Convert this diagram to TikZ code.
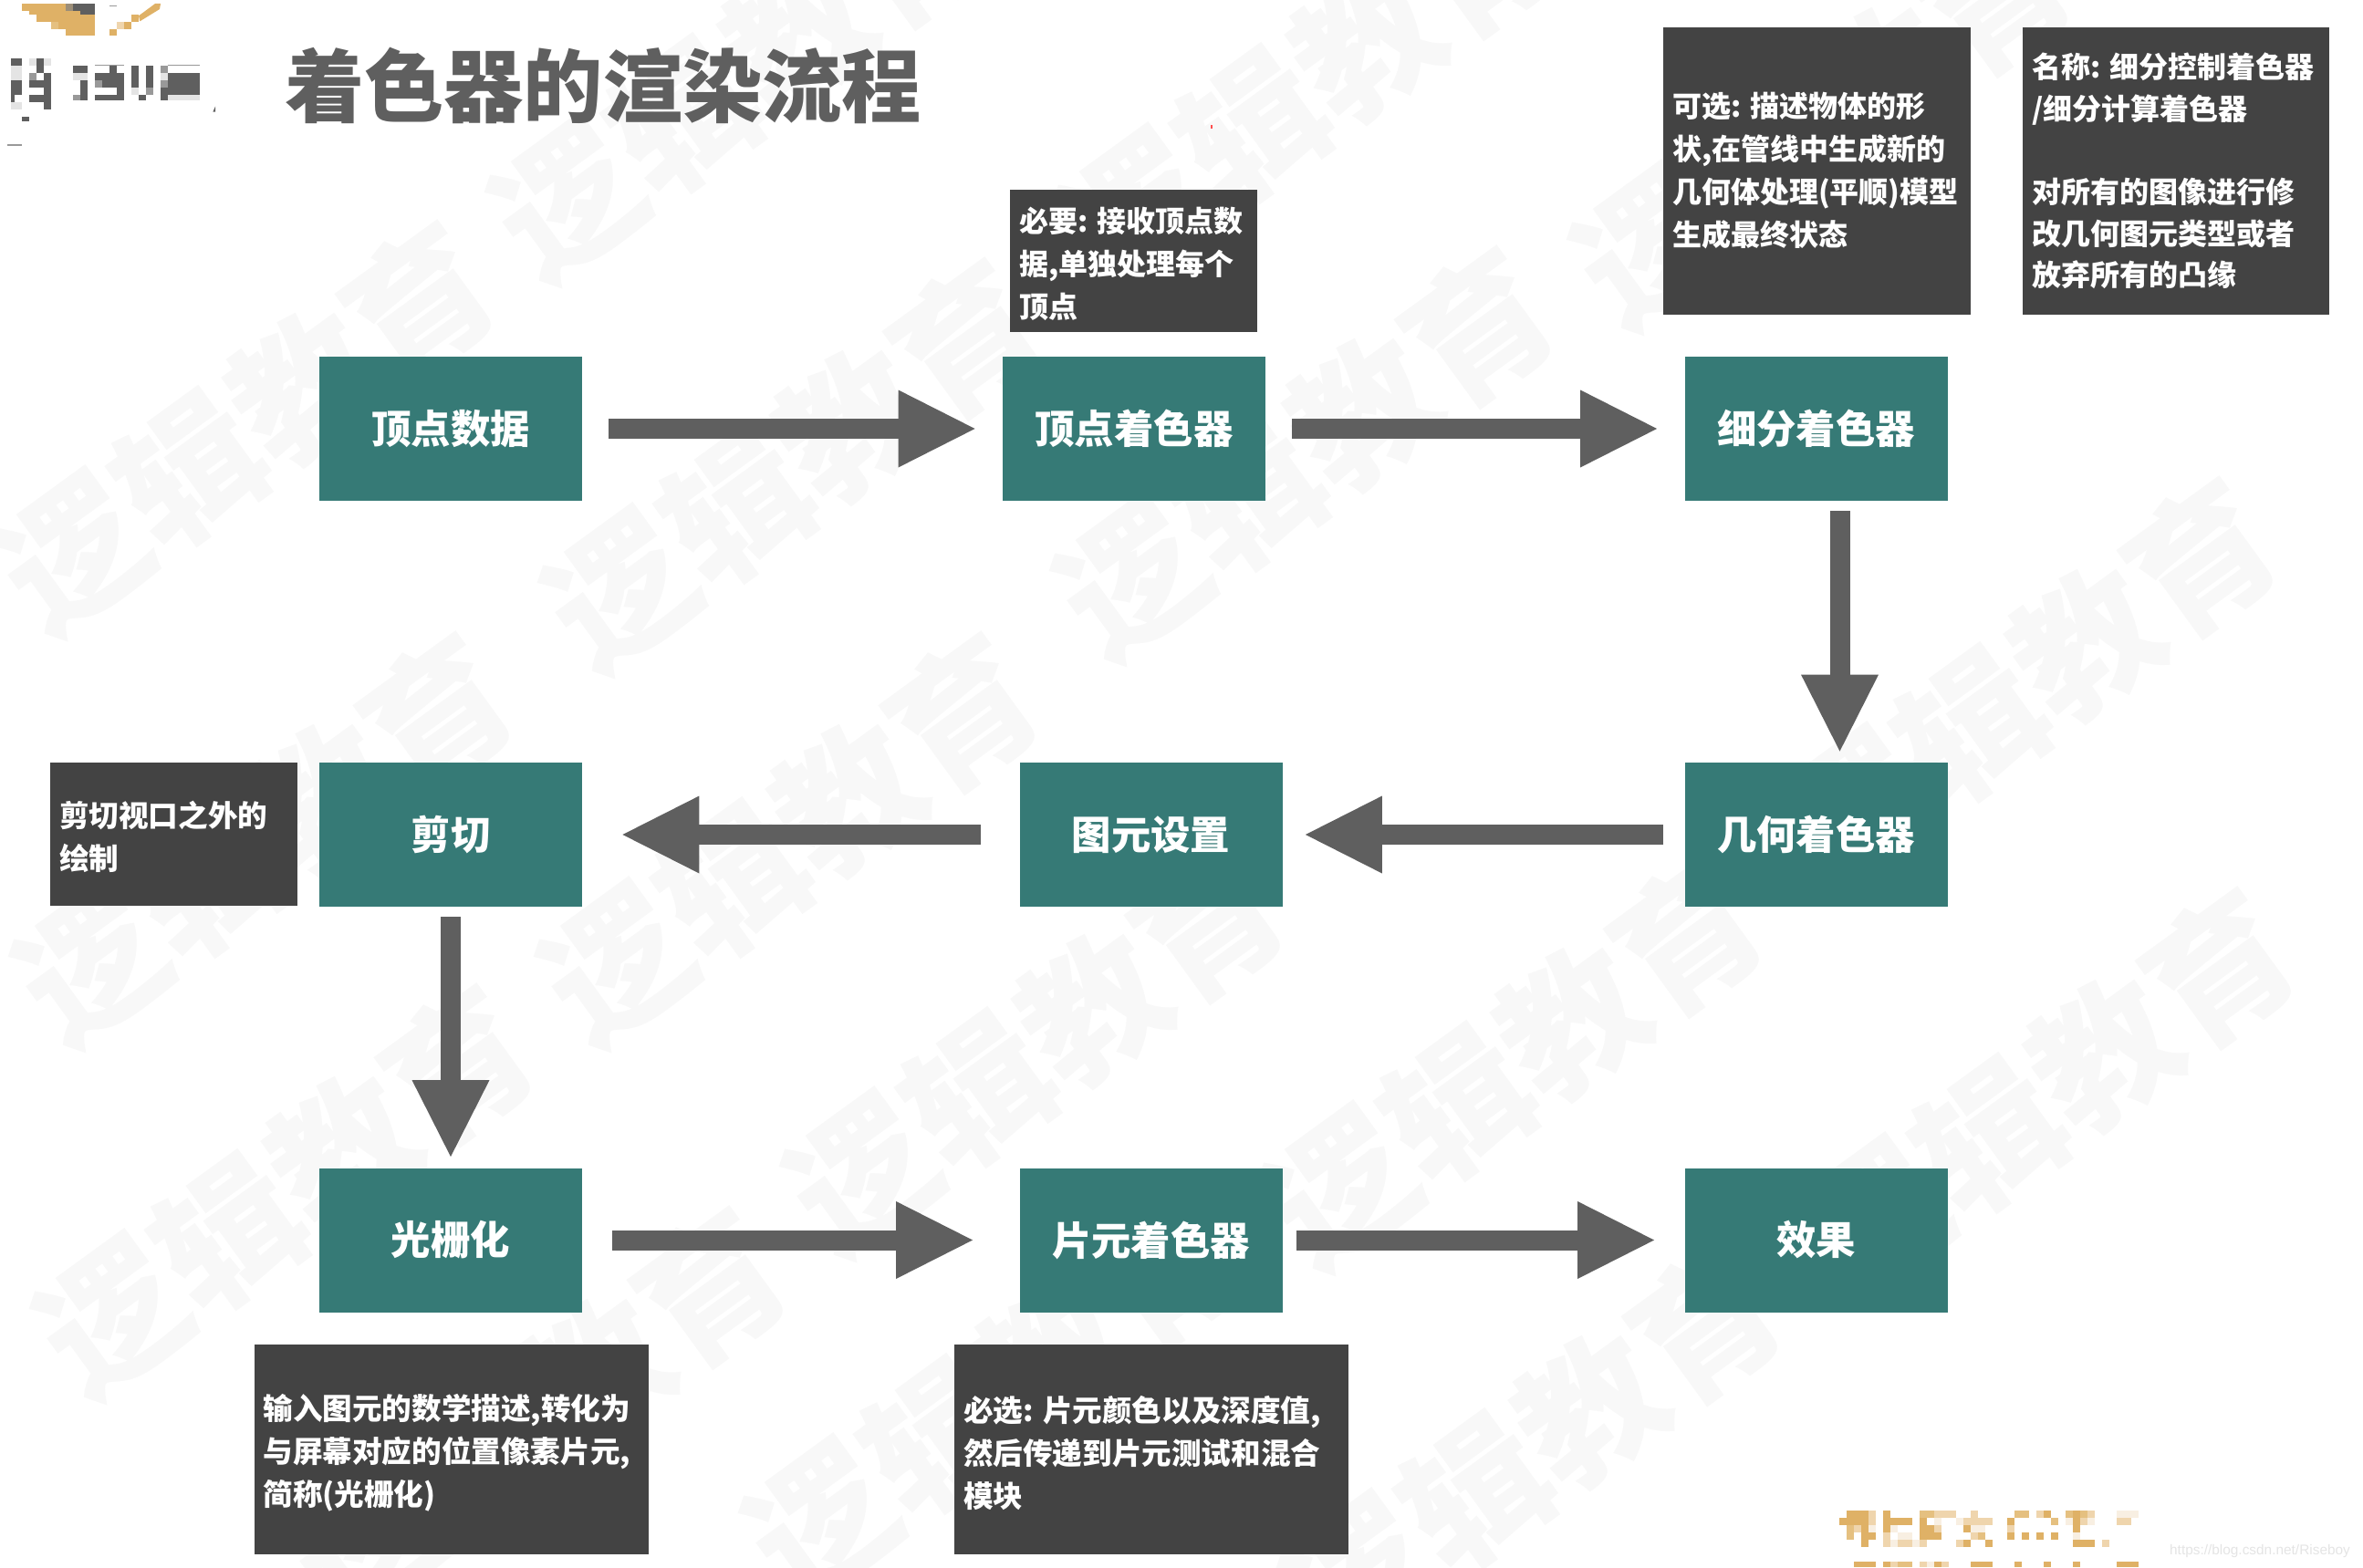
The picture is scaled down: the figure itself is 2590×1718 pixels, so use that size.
\documentclass[tikz,border=0pt]{standalone}
\usepackage{fontspec}
\setmainfont{Noto Sans CJK SC}
\newfontfamily\urlfont{Liberation Sans}
\usetikzlibrary{arrows.meta}
\definecolor{tealc}{HTML}{367A76}
\definecolor{darkc}{HTML}{434343}
\definecolor{arrowc}{HTML}{5F5F5F}
\definecolor{wmc}{HTML}{F8F8F8}
\definecolor{gd}{HTML}{DFB166}
\definecolor{gm}{HTML}{E5C080}
\definecolor{gl}{HTML}{EFD5AD}
\definecolor{gv}{HTML}{F8EFE2}
\definecolor{mm}{HTML}{999999}
\definecolor{ml}{HTML}{E4E4E4}
\newcommand\mz[5]{\fill[#5] (#1,#2) rectangle (#3,#4);}
\newcommand\cln{:\kern0.32em}
\tikzset{
  tealbox/.style={fill=tealc,text=white,inner sep=0pt,minimum width=144pt,minimum height=79pt,
    font=\fontsize{21.7pt}{26pt}\bfseries},
  notebox/.style={fill=darkc,text=white,inner xsep=5pt,inner ysep=0pt,align=left,
    font=\fontsize{16pt}{23.5pt}\bfseries},
  notebig/.style={font=\fontsize{16.3pt}{23.5pt}\bfseries},
  flow/.style={draw=arrowc,line width=11pt,-{Triangle[length=42pt,width=42.5pt,fill=arrowc,line width=0pt]}},
  wmark/.style={text=wmc,rotate=36,font=\fontsize{78pt}{90pt}\bfseries,inner sep=0pt},
}
\begin{document}
\begin{tikzpicture}[x=0.5pt,y=-0.5pt]
\useasboundingbox (0,0) rectangle (2590,1718);
% watermark
\foreach \cx/\cy [count=\wi] in {270/469,812/82,870/510,1431/497,1435/93,1998/134,1660/1165,2223/750,2243/1200,1680/1590,290/920,866/920,313/1306,1135/1150,590/1550,1090/1530}
  \node[wmark] (wm\wi) at (\cx,\cy) {逻辑教育};
% title
\node[text=arrowc,inner sep=0pt,font=\fontsize{43.6pt}{50pt}\bfseries] (title) at (661,94) {着色器的渲染流程};
% process boxes
\node[tealbox] (vdata) at (494,470) {顶点数据};
\node[tealbox] (vs)    at (1243,470) {顶点着色器};
\node[tealbox] (tess)  at (1990.5,470) {细分着色器};
\node[tealbox] (geo)   at (1990.5,915) {几何着色器};
\node[tealbox] (prim)  at (1261.5,915) {图元设置};
\node[tealbox] (clip)  at (494,915) {剪切};
\node[tealbox] (rast)  at (494,1359.5) {光栅化};
\node[tealbox] (fs)    at (1261.5,1359.5) {片元着色器};
\node[tealbox] (fx)    at (1990.5,1359.5) {效果};
% notes
\node[notebox,text width=125.5pt,minimum height=78pt] (n1) at (1242.5,286) {\rule{0pt}{17pt}必要\cln 接收顶点数\\据,单独处理每个\\顶点};
\node[notebox,text width=158.5pt,minimum height=157.5pt] (n2) at (1991.5,187.5) {可选\cln 描述物体的形\\状,在管线中生成新的\\几何体处理(平顺)模型\\生成最终状态};
\node[notebox,font=\fontsize{16pt}{22.8pt}\bfseries,text width=158pt,minimum height=157.5pt] (n3) at (2385,187.5) {名称\cln 细分控制着色器\\/细分计算着色器\\\mbox{}\\对所有的图像进行修\\改几何图元类型或者\\放弃所有的凸缘};
\node[notebox,notebig,text width=125.5pt,minimum height=78.5pt] (n4) at (190.5,914.5) {\rule{0pt}{17.5pt}剪切视口之外的\\绘制};
\node[notebox,notebig,text width=206pt,minimum height=115pt] (n5) at (494.5,1589) {\rule{0pt}{18pt}输入图元的数学描述,转化为\\与屏幕对应的位置像素片元,\\简称(光栅化)};
\node[notebox,notebig,text width=206pt,minimum height=115pt] (n6) at (1262,1589) {\rule{0pt}{18pt}必选\cln 片元颜色以及深度值,\\然后传递到片元测试和混合\\模块};
% connectors
\draw[flow,shorten <=14.5pt,shorten >=15pt] (vdata) -- (vs);
\draw[flow,shorten <=14.5pt,shorten >=15pt] (vs) -- (tess);
\draw[flow,shorten <=5.5pt,shorten >=6pt] ([xshift=13pt]tess.south) -- ([xshift=13pt]geo.north);
\draw[flow,shorten <=11.5pt,shorten >=12.5pt] (geo) -- (prim);
\draw[flow,shorten <=21pt,shorten >=22pt] (prim) -- (clip);
\draw[flow,shorten <=5.5pt,shorten >=6pt] (clip) -- (rast);
\draw[flow,shorten <=16.5pt,shorten >=25.5pt] (rast) -- (fs);
\draw[flow,shorten <=7.5pt,shorten >=16.5pt] (fs) -- (fx);
% tiny red speck
\fill[red!70] (1327,137) rectangle (1329,141);
% top-left mosaic
\begin{scope}[x=0.16667pt,y=-0.16667pt]
\mz{72}{12}{216}{36}{gd}\mz{216}{12}{240}{36}{gray!70!gd}\mz{240}{12}{312}{36}{arrowc}
\mz{96}{36}{264}{48}{gd}\mz{264}{36}{312}{48}{arrowc}
\mz{120}{48}{312}{72}{gd}
\mz{168}{72}{192}{96}{gm}\mz{192}{72}{312}{96}{gd}
\mz{216}{96}{312}{118}{gd}
\mz{360}{96}{384}{118}{gd}\mz{384}{72}{408}{96}{gl}\mz{408}{72}{432}{96}{gd}\mz{432}{48}{456}{72}{gd}
\fill[gd] (456,52) -- (510,12) -- (528,12) -- (525,30) -- (460,70) -- cycle;
\fill[mm] (360,18) rectangle (384,22);
\mz{36}{192}{72}{216}{arrowc}\mz{120}{192}{144}{240}{arrowc}\mz{36}{264}{72}{312}{arrowc}\mz{36}{312}{48}{336}{arrowc}
\mz{96}{264}{144}{288}{arrowc}\mz{144}{240}{168}{360}{arrowc}\mz{96}{312}{144}{336}{arrowc}\mz{72}{384}{96}{398}{arrowc}
\mz{36}{216}{72}{264}{ml}\mz{96}{192}{120}{216}{ml}\mz{36}{336}{72}{360}{ml}\mz{144}{192}{168}{216}{ml}\mz{96}{240}{120}{264}{mm}
\mz{240}{216}{288}{240}{arrowc}\mz{264}{264}{288}{330}{arrowc}\mz{240}{312}{264}{330}{mm}\mz{240}{240}{288}{264}{ml}
\mz{360}{216}{384}{240}{arrowc}\mz{312}{240}{408}{264}{arrowc}\mz{336}{264}{408}{288}{arrowc}\mz{384}{288}{408}{330}{arrowc}\mz{312}{312}{384}{330}{arrowc}\mz{312}{264}{336}{288}{mm}
\mz{432}{216}{456}{288}{arrowc}\mz{480}{216}{504}{312}{arrowc}\mz{432}{288}{456}{312}{ml}\mz{456}{312}{480}{330}{arrowc}\mz{480}{288}{504}{312}{mm}
\mz{528}{216}{552}{240}{mm}\mz{528}{240}{552}{264}{ml}\mz{528}{264}{552}{288}{mm}\mz{528}{288}{552}{330}{arrowc}\mz{552}{240}{656}{312}{arrowc}\mz{552}{312}{656}{330}{ml}
\mz{312}{212}{408}{215}{mm}\mz{552}{212}{656}{215}{mm}
\mz{24}{475}{72}{480}{mm}
\fill[arrowc] (700,368) -- (708,350) -- (708,368) -- cycle;
\end{scope}
% bottom-right mosaic
\begin{scope}[shift={(2000,1640)},x=0.16667pt,y=-0.16667pt]
\mz{72}{48}{144}{72}{gd}\mz{144}{48}{168}{72}{gl}\mz{192}{48}{216}{72}{gd}\mz{312}{48}{360}{72}{gm}\mz{360}{48}{384}{72}{gl}\mz{384}{48}{432}{72}{gl}\mz{480}{48}{504}{72}{gl}\mz{624}{48}{672}{72}{gm}\mz{696}{48}{720}{72}{gl}\mz{720}{48}{744}{72}{gd}\mz{792}{48}{816}{72}{gm}\mz{816}{48}{840}{72}{gd}\mz{840}{48}{864}{72}{gm}\mz{864}{48}{888}{72}{gl}\mz{960}{48}{1032}{72}{gv}
\mz{48}{72}{144}{96}{gd}\mz{144}{72}{168}{96}{gl}\mz{192}{72}{288}{96}{gd}\mz{312}{72}{336}{96}{gd}\mz{360}{72}{384}{96}{gv}\mz{432}{72}{456}{96}{gv}\mz{456}{72}{552}{96}{gl}\mz{600}{72}{624}{96}{gd}\mz{744}{72}{768}{96}{gm}\mz{792}{72}{816}{96}{gv}\mz{816}{72}{840}{96}{gd}\mz{840}{72}{864}{96}{gl}\mz{864}{72}{888}{96}{gv}\mz{960}{72}{1008}{96}{gl}
\mz{72}{96}{96}{120}{gm}\mz{96}{96}{120}{120}{gl}\mz{120}{96}{144}{120}{gd}\mz{144}{96}{168}{120}{gv}\mz{192}{96}{216}{120}{gd}\mz{216}{96}{240}{120}{gv}\mz{312}{96}{360}{120}{gd}\mz{360}{96}{384}{120}{gl}\mz{456}{96}{480}{120}{gd}\mz{480}{96}{528}{120}{gv}\mz{600}{96}{624}{120}{gl}\mz{816}{96}{840}{120}{gd}
\mz{72}{120}{96}{144}{gm}\mz{120}{120}{168}{144}{gd}\mz{192}{120}{216}{144}{gl}\mz{240}{120}{288}{144}{gv}\mz{312}{120}{384}{144}{gd}\mz{480}{120}{504}{144}{gl}\mz{504}{120}{528}{144}{gm}\mz{600}{120}{624}{144}{gd}\mz{648}{120}{672}{144}{gd}\mz{696}{120}{720}{144}{gd}\mz{744}{120}{768}{144}{gd}\mz{816}{120}{840}{144}{gv}
\mz{120}{144}{144}{168}{gd}\mz{192}{144}{216}{168}{gl}\mz{216}{144}{240}{168}{gv}\mz{240}{144}{288}{168}{gl}\mz{288}{144}{312}{168}{gv}\mz{312}{144}{336}{168}{gl}\mz{432}{144}{456}{168}{gl}\mz{456}{144}{480}{168}{gd}\mz{528}{144}{552}{168}{gd}\mz{816}{144}{888}{168}{gd}\mz{912}{144}{936}{168}{gl}
\mz{96}{216}{168}{234}{gd}\mz{192}{216}{216}{234}{gd}\mz{216}{216}{240}{234}{gl}\mz{240}{216}{288}{234}{gm}\mz{312}{216}{336}{234}{gl}\mz{336}{216}{360}{234}{gv}\mz{360}{216}{384}{234}{gd}\mz{384}{216}{408}{234}{gl}\mz{480}{216}{552}{234}{gd}\mz{624}{216}{648}{234}{gd}\mz{720}{216}{744}{234}{gd}\mz{816}{216}{840}{234}{gd}\mz{960}{216}{1032}{234}{gd}
\end{scope}
\node[text=ml,inner sep=0pt,font=\urlfont\fontsize{7.7pt}{9pt}\selectfont] (csdn) at (2477,1700) {https://blog.csdn.net/Riseboy};
\end{tikzpicture}
\end{document}
